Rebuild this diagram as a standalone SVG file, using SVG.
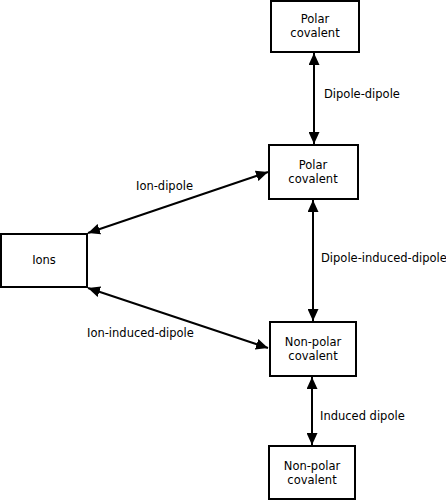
<svg xmlns="http://www.w3.org/2000/svg" width="446" height="500" viewBox="0 0 446 500">
<defs>
<marker id="ah" viewBox="0 0 12 11" refX="12" refY="5.5" markerWidth="12" markerHeight="11" markerUnits="userSpaceOnUse" orient="auto-start-reverse">
<path d="M0,0 L12,5.5 L0,11 Z" fill="#000"/>
</marker>
</defs>
<style>
.box{fill:#fff;stroke:#000;stroke-width:2}
text{font-family:"DejaVu Sans",sans-serif;font-size:11.5px;fill:#000}
.c{text-anchor:middle}
.e{fill:none;stroke:#000;stroke-width:2;marker-start:url(#ah);marker-end:url(#ah)}
</style>
<rect width="446" height="500" fill="#fff"/>
<g id="connectors">
<line class="e" x1="314" y1="53" x2="314" y2="144"/>
<line class="e" x1="313" y1="200" x2="313" y2="321"/>
<line class="e" x1="312" y1="377" x2="312" y2="445"/>
<line class="e" x1="88" y1="233" x2="268" y2="172"/>
<line class="e" x1="88" y1="288" x2="268" y2="348"/>
<text x="324" y="98">Dipole-dipole</text>
<text x="136" y="190">Ion-dipole</text>
<text x="87" y="337">Ion-induced-dipole</text>
<text x="321" y="262">Dipole-induced-dipole</text>
<text x="320" y="420">Induced dipole</text>
</g>
<g id="n1"><rect class="box" x="271" y="1" width="88" height="51"/><text class="c" x="315" y="23">Polar</text><text class="c" x="315" y="37">covalent</text></g>
<g id="n2"><rect class="box" x="269" y="145" width="89" height="54"/><text class="c" x="313" y="169">Polar</text><text class="c" x="313" y="183">covalent</text></g>
<g id="n3"><rect class="box" x="1" y="234" width="86" height="53"/><text class="c" x="44" y="264">Ions</text></g>
<g id="n4"><rect class="box" x="270" y="322" width="86" height="54"/><text class="c" x="313" y="346">Non-polar</text><text class="c" x="313" y="360">covalent</text></g>
<g id="n5"><rect class="box" x="269" y="446" width="86" height="53"/><text class="c" x="312" y="470">Non-polar</text><text class="c" x="312" y="484">covalent</text></g>
</svg>
